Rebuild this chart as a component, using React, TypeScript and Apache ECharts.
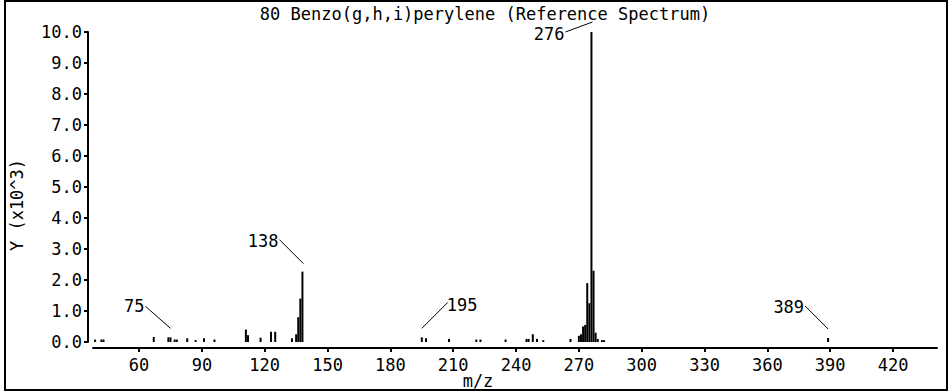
import React, { useEffect, useRef } from "react";
import * as echarts from "echarts";

const TITLE = "80 Benzo(g,h,i)perylene (Reference Spectrum)";
const X_NAME = "m/z";
const Y_NAME = "Y (x10^3)";

// m/z values and intensities (units of 10^3)
const mzValues = [
  39, 42, 43, 67, 74, 75, 77, 78, 83, 87, 91, 96,
  111, 112, 118, 123, 125, 133, 135, 136, 137, 138,
  195, 197, 208, 221, 223, 235, 245, 246, 248, 250, 253,
  266, 270, 271, 272, 273, 274, 275, 276, 277, 278, 279, 281, 282,
  389,
];
const intensities = [
  0.08, 0.08, 0.08, 0.16, 0.15, 0.15, 0.08, 0.08, 0.12, 0.06, 0.12, 0.08,
  0.4, 0.22, 0.14, 0.33, 0.33, 0.12, 0.25, 0.8, 1.4, 2.27,
  0.15, 0.12, 0.1, 0.08, 0.08, 0.08, 0.1, 0.1, 0.25, 0.1, 0.06,
  0.1, 0.2, 0.25, 0.5, 0.55, 1.9, 1.25, 10.0, 2.3, 0.3, 0.1, 0.06, 0.06,
  0.13,
];
const xTicks = [60, 90, 120, 150, 180, 210, 240, 270, 300, 330, 360, 390, 420];
const labeledPeaks = [75, 138, 195, 276, 389];

// leader line layout (pixel offsets from peak top)
const LEADER: Record<number, { end: number[]; start: number[]; align: string; tdy: number }> = {
  75: { end: [0, -9], start: [-25, -31], align: "right", tdy: 0 },
  138: { end: [1, -8], start: [-23, -32], align: "right", tdy: 1.5 },
  195: { end: [0, -9], start: [26, -35], align: "left", tdy: 3 },
  276: { end: [1, -10], start: [-26, 0], align: "right", tdy: 1.5 },
  389: { end: [0, -9], start: [-23, -32], align: "right", tdy: 1 },
};

const FONT = "DejaVu Sans Mono";
const FS = 17;

export default function App() {
  const ref = useRef<HTMLDivElement>(null);
  useEffect(() => {
    document.body.style.margin = "0";
    if (!ref.current) return;
    const chart = echarts.init(ref.current, undefined, { renderer: "svg" });
    const barData = mzValues.map((m, i) => [m, intensities[i]]);
    const labelData = labeledPeaks.map((m) => [m, intensities[mzValues.indexOf(m)]]);
    chart.setOption({
      animation: false,
      backgroundColor: "#ffffff",
      grid: { left: 93, right: 13, top: 32, bottom: 50, outerBoundsMode: "none" },
      xAxis: {
        type: "value",
        min: 38,
        max: 441,
        offset: 6,
        axisLine: { show: true, onZero: false, lineStyle: { color: "#000", width: 2 } },
        axisTick: { show: true, inside: false, length: 4, customValues: xTicks, lineStyle: { color: "#000", width: 2 } },
        axisLabel: { customValues: xTicks, margin: 8, color: "#000", fontFamily: FONT, fontSize: FS },
        splitLine: { show: false },
      },
      yAxis: {
        type: "value",
        min: 0,
        max: 10,
        interval: 1,
        offset: 5,
        axisLine: { show: true, onZero: false, lineStyle: { color: "#000", width: 2 } },
        axisTick: { show: true, inside: false, length: 4, lineStyle: { color: "#000", width: 2 } },
        axisLabel: {
          margin: 6,
          color: "#000",
          fontFamily: FONT,
          fontSize: FS,
          formatter: (v: number) => v.toFixed(1),
        },
        splitLine: { show: false },
      },
      graphic: [
        {
          type: "rect",
          shape: { x: 5, y: 1, width: 942, height: 389 },
          style: { fill: "none", stroke: "#000", lineWidth: 2 },
          silent: true,
        },
        {
          type: "text",
          x: 485,
          y: 14,
          style: { text: TITLE, align: "center", verticalAlign: "middle", fill: "#000", font: `${FS}px '${FONT}'` },
        },
        {
          type: "text",
          x: 478,
          y: 381,
          style: { text: X_NAME, align: "center", verticalAlign: "middle", fill: "#000", font: `${FS}px '${FONT}'` },
        },
        {
          type: "text",
          x: 17,
          y: 205,
          rotation: Math.PI / 2,
          style: { text: Y_NAME, align: "center", verticalAlign: "middle", fill: "#000", font: `${FS}px '${FONT}'` },
        },
      ],
      series: [
        {
          type: "bar",
          data: barData,
          barWidth: 2,
          itemStyle: { color: "#000" },
          silent: true,
        },
        {
          type: "custom",
          data: labelData,
          clip: false,
          silent: true,
          encode: { x: 0, y: 1 },
          renderItem: (params: any, api: any) => {
            const m = api.value(0);
            const v = api.value(1);
            const [px, py] = api.coord([m, v]);
            const L = LEADER[m];
            const ex = px + L.end[0];
            const ey = py + L.end[1];
            const sx = px + L.start[0];
            const sy = py + L.start[1];
            return {
              type: "group",
              children: [
                {
                  type: "line",
                  shape: { x1: sx, y1: sy, x2: ex, y2: ey },
                  style: { stroke: "#000", lineWidth: 1 },
                },
                {
                  type: "text",
                  x: sx - 1,
                  y: sy + L.tdy,
                  style: {
                    text: String(m),
                    align: L.align,
                    verticalAlign: "middle",
                    fill: "#000",
                    font: `${FS}px '${FONT}'`,
                  },
                },
              ],
            };
          },
        },
      ],
    });
    return () => chart.dispose();
  }, []);
  return <div ref={ref} style={{ width: 950, height: 392 }} />;
}
